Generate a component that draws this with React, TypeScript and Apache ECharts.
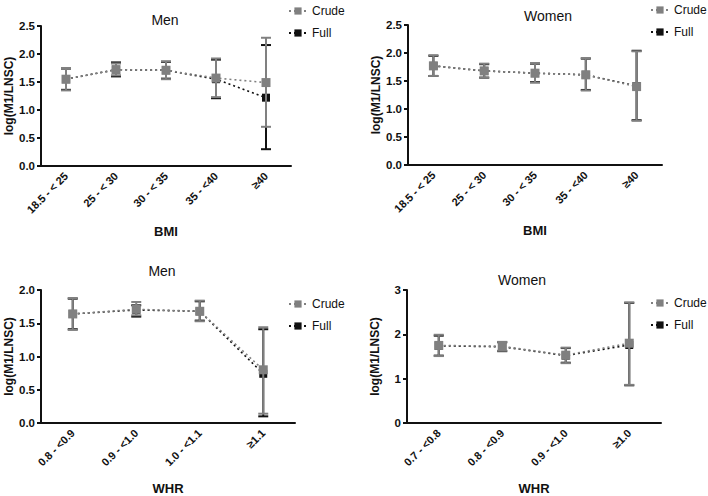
import React, { useEffect, useRef } from "react";
import * as echarts from "echarts";

const bmiCats = ["18.5 - < 25", "25 - < 30", "30 - < 35", "35 - <40", "≥40"];
const whrMenCats = ["0.8 - <0.9", "0.9 - <1.0", "1.0 - <1.1", "≥1.1"];
const whrWomenCats = ["0.7 - <0.8", "0.8 - <0.9", "0.9 - <1.0", "≥1.0"];

const menBmiCrude = [1.55, 1.72, 1.71, 1.57, 1.49];
const menBmiCrudeLow = [1.35, 1.62, 1.55, 1.23, 0.7];
const menBmiCrudeHigh = [1.75, 1.83, 1.87, 1.92, 2.29];
const menBmiFull = [1.55, 1.72, 1.71, 1.55, 1.22];
const menBmiFullLow = [1.36, 1.6, 1.56, 1.21, 0.3];
const menBmiFullHigh = [1.74, 1.85, 1.86, 1.9, 2.16];

const womenBmiCrude = [1.77, 1.68, 1.64, 1.61, 1.4];
const womenBmiCrudeLow = [1.59, 1.56, 1.47, 1.33, 0.79];
const womenBmiCrudeHigh = [1.96, 1.81, 1.82, 1.91, 2.03];
const womenBmiFull = [1.77, 1.68, 1.64, 1.61, 1.41];
const womenBmiFullLow = [1.59, 1.56, 1.48, 1.34, 0.8];
const womenBmiFullHigh = [1.95, 1.8, 1.81, 1.9, 2.04];

const menWhrCrude = [1.64, 1.71, 1.68, 0.8];
const menWhrCrudeLow = [1.4, 1.62, 1.53, 0.14];
const menWhrCrudeHigh = [1.88, 1.82, 1.84, 1.44];
const menWhrFull = [1.64, 1.7, 1.68, 0.74];
const menWhrFullLow = [1.41, 1.6, 1.54, 0.1];
const menWhrFullHigh = [1.87, 1.77, 1.83, 1.41];

const womenWhrCrude = [1.75, 1.73, 1.53, 1.8];
const womenWhrCrudeLow = [1.51, 1.63, 1.35, 0.86];
const womenWhrCrudeHigh = [1.99, 1.83, 1.7, 2.72];
const womenWhrFull = [1.74, 1.72, 1.52, 1.76];
const womenWhrFullLow = [1.52, 1.62, 1.36, 0.85];
const womenWhrFullHigh = [1.97, 1.82, 1.69, 2.71];

const FONT = "Liberation Sans, Arial, sans-serif";
const CRUDE = "#808080";
const FULL = "#111111";

function errData(lo: number[], hi: number[]) {
  return lo.map((l, i) => [i, l, hi[i]]);
}

function errSeries(idx: number, name: string, lo: number[], hi: number[], color: string, z: number) {
  return {
    type: "custom",
    name: name + " err",
    xAxisIndex: idx,
    yAxisIndex: idx,
    z,
    encode: { x: 0, y: [1, 2] },
    data: errData(lo, hi),
    renderItem: (params: any, api: any) => {
      const x = api.value(0);
      const a = api.coord([x, api.value(1)]);
      const b = api.coord([x, api.value(2)]);
      const hw = 5;
      const style = { stroke: color, lineWidth: 2 };
      return {
        type: "group",
        children: [
          { type: "line", shape: { x1: a[0], y1: a[1], x2: b[0], y2: b[1] }, style },
          { type: "line", shape: { x1: a[0] - hw, y1: a[1], x2: a[0] + hw, y2: a[1] }, style },
          { type: "line", shape: { x1: b[0] - hw, y1: b[1], x2: b[0] + hw, y2: b[1] }, style },
        ],
      };
    },
  };
}

function lineSeries(idx: number, name: string, data: number[], color: string, size: number, z: number) {
  return {
    type: "line",
    name,
    xAxisIndex: idx,
    yAxisIndex: idx,
    z,
    data,
    symbol: "rect",
    symbolSize: size,
    itemStyle: { color },
    lineStyle: { color, type: [2, 3], width: 1.6 },
  };
}

function xAxis(idx: number, cats: string[], name: string) {
  return {
    type: "category",
    gridIndex: idx,
    data: cats,
    boundaryGap: true,
    name,
    nameLocation: "middle",
    nameGap: 59,
    nameTextStyle: { fontFamily: FONT, fontWeight: "bold", fontSize: 13, color: "#111" },
    axisLine: { lineStyle: { color: "#111", width: 2 } },
    axisTick: { alignWithLabel: true, length: 5, lineStyle: { width: 2, color: "#111" } },
    axisLabel: { rotate: 45, fontFamily: FONT, fontWeight: "bold", fontSize: 11, color: "#111", margin: 8 },
    splitLine: { show: false },
  };
}

function yAxis(idx: number, max: number, interval: number, decimals: number) {
  return {
    type: "value",
    gridIndex: idx,
    min: 0,
    max,
    interval,
    name: "log(M1/LNSC)",
    nameLocation: "middle",
    nameGap: 26,
    nameTextStyle: { fontFamily: FONT, fontWeight: "bold", fontSize: 12, color: "#111" },
    axisLine: { show: true, lineStyle: { color: "#111", width: 2 } },
    axisTick: { show: true, length: 4, lineStyle: { width: 2, color: "#111" } },
    axisLabel: {
      fontFamily: FONT,
      fontWeight: "bold",
      fontSize: 11.5,
      color: "#111",
      margin: 6,
      formatter: (v: number) => v.toFixed(decimals),
    },
    splitLine: { show: false },
  };
}

function legend(left: number, top: number) {
  return {
    left,
    top,
    orient: "vertical",
    data: ["Crude", "Full"],
    itemWidth: 18,
    itemHeight: 9,
    itemGap: 10,
    textStyle: { fontFamily: FONT, fontSize: 12, color: "#111" },
    selectedMode: false,
  };
}

export default function App() {
  const ref = useRef<HTMLDivElement>(null);
  useEffect(() => {
    const chart = echarts.init(ref.current!, null, { renderer: "svg" });
    const titleStyle = { fontFamily: FONT, fontSize: 14, fontWeight: "normal", color: "#111" };
    chart.setOption({
      animation: false,
      backgroundColor: "#fff",
      title: [
        { text: "Men", left: 160, top: 8, textAlign: "center", textStyle: titleStyle },
        { text: "Women", left: 543, top: 4, textAlign: "center", textStyle: titleStyle },
        { text: "Men", left: 157, top: 259, textAlign: "center", textStyle: titleStyle },
        { text: "Women", left: 517, top: 268, textAlign: "center", textStyle: titleStyle },
      ],
      legend: [legend(283, 0), legend(645, -1), legend(283, 293), legend(645, 292)],
      grid: [
        { left: 41, top: 26, width: 250, height: 140 },
        { left: 408, top: 25, width: 254, height: 140 },
        { left: 41, top: 290, width: 254, height: 141 },
        { left: 407, top: 290, width: 254, height: 141 },
      ],
      xAxis: [
        xAxis(0, bmiCats, "BMI"),
        xAxis(1, bmiCats, "BMI"),
        xAxis(2, whrMenCats, "WHR"),
        xAxis(3, whrWomenCats, "WHR"),
      ],
      yAxis: [yAxis(0, 2.5, 0.5, 1), yAxis(1, 2.5, 0.5, 1), yAxis(2, 2, 0.5, 1), yAxis(3, 3, 1, 0)],
      series: [
        errSeries(0, "Full", menBmiFullLow, menBmiFullHigh, FULL, 1),
        lineSeries(0, "Full", menBmiFull, FULL, 8, 2),
        errSeries(0, "Crude", menBmiCrudeLow, menBmiCrudeHigh, CRUDE, 3),
        lineSeries(0, "Crude", menBmiCrude, CRUDE, 9, 4),

        errSeries(1, "Full", womenBmiFullLow, womenBmiFullHigh, FULL, 1),
        lineSeries(1, "Full", womenBmiFull, FULL, 8, 2),
        errSeries(1, "Crude", womenBmiCrudeLow, womenBmiCrudeHigh, CRUDE, 3),
        lineSeries(1, "Crude", womenBmiCrude, CRUDE, 9, 4),

        errSeries(2, "Full", menWhrFullLow, menWhrFullHigh, FULL, 1),
        lineSeries(2, "Full", menWhrFull, FULL, 8, 2),
        errSeries(2, "Crude", menWhrCrudeLow, menWhrCrudeHigh, CRUDE, 3),
        lineSeries(2, "Crude", menWhrCrude, CRUDE, 9, 4),

        errSeries(3, "Full", womenWhrFullLow, womenWhrFullHigh, FULL, 1),
        lineSeries(3, "Full", womenWhrFull, FULL, 8, 2),
        errSeries(3, "Crude", womenWhrCrudeLow, womenWhrCrudeHigh, CRUDE, 3),
        lineSeries(3, "Crude", womenWhrCrude, CRUDE, 9, 4),
      ],
    });
    return () => chart.dispose();
  }, []);
  return <div ref={ref} style={{ width: 708, height: 496, position: "absolute", left: 0, top: 0 }} />;
}
